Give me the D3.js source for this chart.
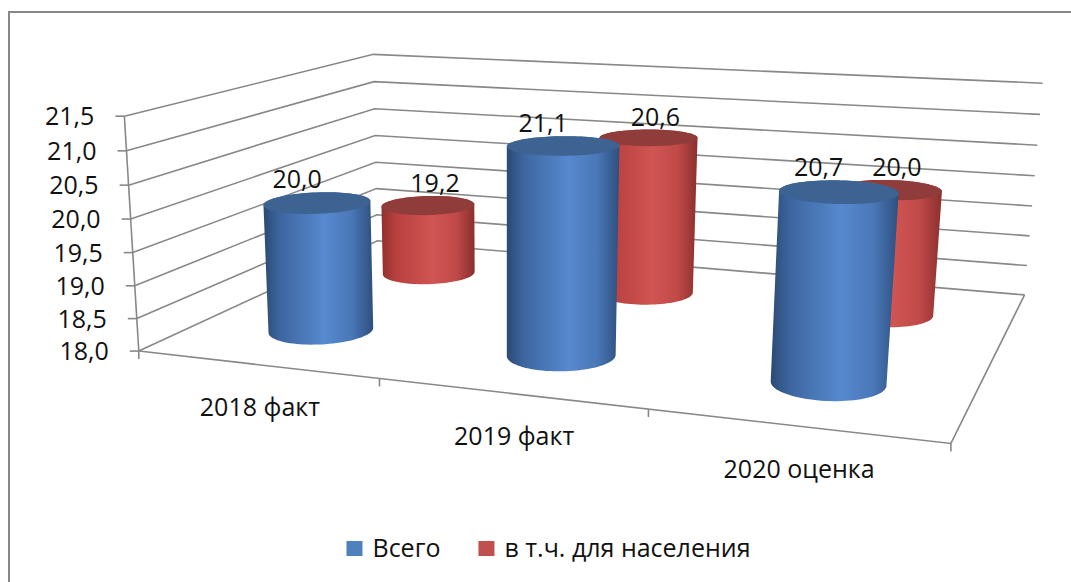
<!DOCTYPE html>
<html><head><meta charset="utf-8">
<script src="https://cdn.jsdelivr.net/npm/d3@7"></script>
<style>
body{margin:0;background:#fff;}
text{font-family:'Open Sans','Noto Sans',sans-serif;fill:#111;}
</style>
</head><body>
<svg id="chart" width="1071" height="582"></svg>
<script>
// ---------------- data ----------------
const categories = ["2018 факт", "2019 факт", "2020 оценка"];
const seriesNames = ["Всего", "в т.ч. для населения"];
const valuesTotal = [20.0, 21.1, 20.7];
const valuesPopulation = [19.2, 20.6, 20.0];
const valueTicks = [18.0, 18.5, 19.0, 19.5, 20.0, 20.5, 21.0, 21.5];
const seriesValues = [valuesTotal, valuesPopulation];

// ---------------- style ----------------
const fillBase = ["#4f81bd", "#c0504d"];
const bodyStops = [
  ["#2b4a74", "#3d66a0", "#5689cf", "#4a78b8", "#2e4f7e"],
  ["#8f302e", "#b8403e", "#d05553", "#c04a48", "#8a2f2d"]
];
const topFill = ["#3d6392", "#8f3c3a"];
const gridColor = "#888";
const FS = 25;
const fmt = d => d.toFixed(1).replace(".", ",");

// ---------------- 3D world scales ----------------
const W = 3, D = 2, H = 3.5;
const xScale = d3.scaleBand().domain(categories).range([0, W]);
const zScale = d3.scaleBand().domain(seriesNames).range([0, D]);
const yScale = d3.scaleLinear().domain([18, 21.5]).range([0, H]);

// camera fitted from the frame box corners (layout)
const frame = [
  [0, 0, 0, 140, 349], [0, H, 0, 123, 117],
  [0, 0, D, 376, 243], [0, H, D, 375, 53],
  [W, 0, D, 1025, 293], [W, H, D, 1042, 84],
  [W, 0, 0, 951, 445]
];
const U0 = 535, V0 = 290, S = 500;
function solveDLT(pairs) {
  const A = [], b = [];
  pairs.forEach(([X, Y, Z, u0, v0]) => {
    const u = (u0 - U0) / S, v = (v0 - V0) / S;
    A.push([X, Y, Z, 1, 0, 0, 0, 0, -u * X, -u * Y, -u * Z]); b.push(u);
    A.push([0, 0, 0, 0, X, Y, Z, 1, -v * X, -v * Y, -v * Z]); b.push(v);
  });
  const n = 11;
  const M = [...Array(n)].map(() => Array(n + 1).fill(0));
  for (let r = 0; r < A.length; r++)
    for (let i = 0; i < n; i++) {
      for (let j = 0; j < n; j++) M[i][j] += A[r][i] * A[r][j];
      M[i][n] += A[r][i] * b[r];
    }
  for (let i = 0; i < n; i++) {
    let p = i;
    for (let k = i + 1; k < n; k++) if (Math.abs(M[k][i]) > Math.abs(M[p][i])) p = k;
    [M[i], M[p]] = [M[p], M[i]];
    for (let k = 0; k < n; k++) {
      if (k === i) continue;
      const f = M[k][i] / M[i][i];
      for (let j = i; j <= n; j++) M[k][j] -= f * M[i][j];
    }
  }
  return M.map((row, i) => row[n] / row[i]);
}
const P = solveDLT(frame);
function proj(X, Y, Z) {
  const w = P[8] * X + P[9] * Y + P[10] * Z + 1;
  const u = (P[0] * X + P[1] * Y + P[2] * Z + P[3]) / w;
  const v = (P[4] * X + P[5] * Y + P[6] * Z + P[7]) / w;
  return [u * S + U0, v * S + V0];
}

const svg = d3.select("#chart");
const defs = svg.append("defs");

// chart border
svg.append("rect").attr("x", 9).attr("y", 12).attr("width", 1100).attr("height", 620)
  .attr("fill", "none").attr("stroke", "#878787").attr("stroke-width", 2);

const line = d3.line();
const gGrid = svg.append("g").attr("fill", "none").attr("stroke", gridColor).attr("stroke-width", 1.6);

// walls gridlines
valueTicks.forEach(t => {
  const yy = yScale(t);
  gGrid.append("path").attr("d", line([proj(0, yy, 0), proj(0, yy, D), proj(W, yy, D)]));
});
// floor front & right edges
gGrid.append("path").attr("d", line([proj(0, 0, 0), proj(W, 0, 0), proj(W, 0, D)]));
// value axis
gGrid.append("path").attr("d", line([proj(0, 0, 0), proj(0, H, 0)]));
valueTicks.forEach(t => {
  const p = proj(0, yScale(t), 0);
  gGrid.append("path").attr("d", line([[p[0] - 9, p[1]], p]));
  svg.append("text").attr("x", p[0] - 30).attr("y", p[1] + 9)
    .attr("text-anchor", "end").attr("font-size", FS).text(fmt(t));
});
// category ticks
d3.range(categories.length + 1).forEach(i => {
  const p = proj(i * xScale.bandwidth(), 0, 0);
  gGrid.append("path").attr("d", line([p, [p[0], p[1] + 8]]));
});
// category labels
categories.forEach(c => {
  const p = proj(xScale(c) + xScale.bandwidth() / 2, 0, 0);
  svg.append("text").attr("x", p[0] + 4).attr("y", p[1] + 52)
    .attr("text-anchor", "middle").attr("font-size", FS).text(c);
});

// cylinders: back row first
const R = 0.2, RZ = 0.21, N = 90;
const labelShift = [-20, 7];
const order = d3.range(seriesNames.length).sort((a, b) => zScale(seriesNames[b]) - zScale(seriesNames[a]));
const gCyl = svg.append("g");
const gLab = svg.append("g");
order.forEach(s => {
  const cz = zScale(seriesNames[s]) + zScale.bandwidth() / 2;
  categories.forEach((c, i) => {
    const v = seriesValues[s][i];
    const cx = xScale(c) + xScale.bandwidth() / 2;
    const top = yScale(v);
    const ang = d3.range(N).map(k => 2 * Math.PI * k / N);
    const bot = ang.map(a => proj(cx + R * Math.cos(a), 0, cz + RZ * Math.sin(a)));
    const tp = ang.map(a => proj(cx + R * Math.cos(a), top, cz + RZ * Math.sin(a)));
    const hull = d3.polygonHull(bot.concat(tp));
    const xs = hull.map(p => p[0]);
    const gid = `g${s}_${i}`;
    const lg = defs.append("linearGradient").attr("id", gid).attr("gradientUnits", "userSpaceOnUse")
      .attr("x1", d3.min(xs)).attr("x2", d3.max(xs)).attr("y1", 0).attr("y2", 0);
    [0, 0.15, 0.55, 0.8, 1].forEach((o, k) => lg.append("stop").attr("offset", o).attr("stop-color", bodyStops[s][k]));
    gCyl.append("path").attr("d", "M" + hull.join("L") + "Z").attr("fill", `url(#${gid})`);
    gCyl.append("path").attr("d", "M" + tp.join("L") + "Z").attr("fill", topFill[s]);
    const c0 = proj(cx, top, cz);
    const ty = d3.min(tp, p => p[1]);
    gLab.append("text").attr("x", c0[0] + labelShift[s]).attr("y", ty - 4)
      .attr("text-anchor", "middle").attr("font-size", FS).text(fmt(v));
  });
});

// legend
const leg = svg.append("g");
let lx = 0;
seriesNames.forEach((n, s) => {
  const g = leg.append("g").attr("transform", `translate(${lx},0)`);
  g.append("rect").attr("x", 0).attr("y", -16).attr("width", 16).attr("height", 15).attr("fill", fillBase[s]);
  const t = g.append("text").attr("x", 26).attr("y", 0).attr("font-size", FS).text(n);
  lx += 26 + t.node().getComputedTextLength() + 38;
});
const legW = lx - 38;
leg.attr("transform", `translate(${548.5 - legW / 2},557)`);
</script>
</body></html>
